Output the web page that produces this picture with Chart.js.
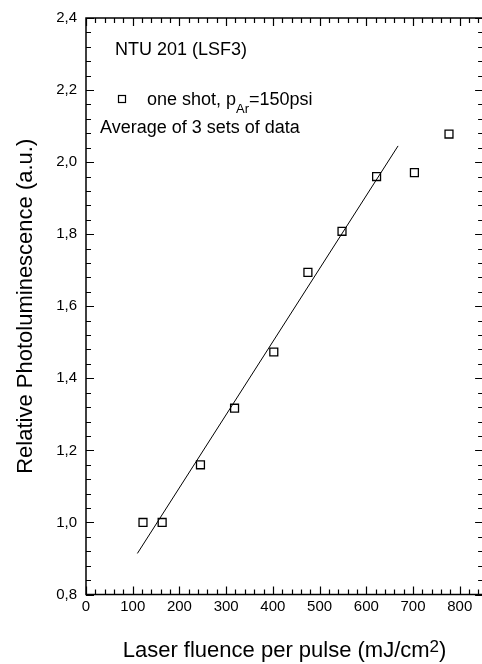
<!DOCTYPE html>
<html>
<head>
<meta charset="utf-8">
<script src="https://cdn.jsdelivr.net/npm/chart.js@4.4.1/dist/chart.umd.min.js"></script>
<style>
  html, body { margin: 0; padding: 0; background: #fff; overflow: hidden; }
  #wrap { width: 490px; height: 664px; }
</style>
</head>
<body>
<div id="wrap"><canvas id="plChart" width="490" height="664"></canvas></div>
<script>
// fluence (mJ/cm2) and relative PL
const fluence = [122, 163, 245, 318, 402, 475, 548, 622, 703, 777];
const relPL = [1.0, 1.0, 1.16, 1.317, 1.473, 1.694, 1.808, 1.96, 1.971, 2.078];

// straight fit line ends
const fitX = [110, 668];
const fitY = [0.914, 2.045];

const xTicks = [0, 100, 200, 300, 400, 500, 600, 700, 800];
const yTicks = [0.8, 1.0, 1.2, 1.4, 1.6, 1.8, 2.0, 2.2, 2.4];

const FONT = '"Liberation Sans", Arial, Helvetica, sans-serif';

const framePlugin = {
    id: 'frame',
    afterDraw(chart) {
        const ctx = chart.ctx;
        const a = chart.chartArea;
        const xs = chart.scales.x;
        const ys = chart.scales.y;
        ctx.save();
        ctx.strokeStyle = '#000';

        // box
        ctx.lineWidth = 1.5;
        ctx.strokeRect(a.left, a.top, a.right - a.left, a.bottom - a.top);

        // inward ticks on all four sides
        ctx.lineWidth = 1.2;
        ctx.beginPath();
        for (let v = 0; v <= 850; v += 20) {
            const px = Math.round(xs.getPixelForValue(v)) + 0.5;
            const len = v % 100 === 0 ? 8 : 5;
            ctx.moveTo(px, a.bottom); ctx.lineTo(px, a.bottom - len);
            ctx.moveTo(px, a.top); ctx.lineTo(px, a.top + len);
        }
        for (let i = 0; i <= 40; i++) {
            const v = 0.8 + i * 0.04;
            const py = Math.round(ys.getPixelForValue(v)) + 0.5;
            const len = i % 5 === 0 ? 8 : 5;
            ctx.moveTo(a.left, py); ctx.lineTo(a.left + len, py);
            ctx.moveTo(a.right, py); ctx.lineTo(a.right - len, py);
        }
        ctx.stroke();

        // annotations
        ctx.fillStyle = '#000';
        ctx.textBaseline = 'alphabetic';
        ctx.textAlign = 'left';
        ctx.font = '18px ' + FONT;
        ctx.fillText('NTU 201 (LSF3)', 115, 55);

        ctx.lineWidth = 1.2;
        ctx.strokeRect(118.5, 95.5, 7, 7);
        ctx.fillText('one shot, p', 147, 105);
        let w = ctx.measureText('one shot, p').width;
        ctx.font = '13px ' + FONT;
        ctx.fillText('Ar', 147 + w, 113);
        const w2 = ctx.measureText('Ar').width;
        ctx.font = '18px ' + FONT;
        ctx.fillText('=150psi', 147 + w + w2, 105);

        ctx.fillText('Average of 3 sets of data', 100, 133);

        // x title with raised 2
        const cx = (a.left + a.right) / 2;
        const p1 = 'Laser fluence per pulse (mJ/cm';
        ctx.font = '22px ' + FONT;
        const t1 = ctx.measureText(p1).width;
        const t3 = ctx.measureText(')').width;
        ctx.font = '17px ' + FONT;
        const t2 = ctx.measureText('2').width;
        let x0 = cx - (t1 + t2 + t3) / 2;
        ctx.font = '22px ' + FONT;
        ctx.fillText(p1, x0, 657);
        ctx.font = '17px ' + FONT;
        ctx.fillText('2', x0 + t1, 652);
        ctx.font = '22px ' + FONT;
        ctx.fillText(')', x0 + t1 + t2, 657);

        // y title
        ctx.save();
        ctx.translate(32, (a.top + a.bottom) / 2);
        ctx.rotate(-Math.PI / 2);
        ctx.textAlign = 'center';
        ctx.fillText('Relative Photoluminescence (a.u.)', 0, 0);
        ctx.restore();

        ctx.restore();
    }
};

new Chart(document.getElementById('plChart'), {
    type: 'scatter',
    data: {
        datasets: [
            {
                type: 'line',
                data: fitX.map((x, i) => ({ x: x, y: fitY[i] })),
                borderColor: '#000',
                borderWidth: 1,
                pointRadius: 0,
                fill: false
            },
            {
                data: fluence.map((x, i) => ({ x: x, y: relPL[i] })),
                pointStyle: 'rect',
                pointRadius: 5.6,
                backgroundColor: '#fff',
                borderColor: '#000',
                borderWidth: 1.3
            }
        ]
    },
    options: {
        responsive: false,
        animation: false,
        layout: { padding: { top: 16, right: 3, left: 0, bottom: 0 } },
        plugins: { legend: { display: false }, tooltip: { enabled: false } },
        scales: {
            x: {
                type: 'linear',
                min: 0,
                max: 850,
                grid: { display: false, drawTicks: false },
                border: { display: false },
                afterBuildTicks: s => { s.ticks = xTicks.map(v => ({ value: v })); },
                afterFit: s => { s.height = 69.5; },
                ticks: {
                    padding: 3,
                    maxRotation: 0,
                    color: '#000',
                    font: { family: FONT, size: 15 }
                }
            },
            y: {
                min: 0.8,
                max: 2.4,
                grid: { display: false, drawTicks: false },
                border: { display: false },
                afterBuildTicks: s => { s.ticks = yTicks.map(v => ({ value: v })); },
                afterFit: s => { s.width = 86; },
                ticks: {
                    padding: 9,
                    color: '#000',
                    font: { family: FONT, size: 15 },
                    callback: v => v.toFixed(1).replace('.', ',')
                }
            }
        }
    },
    plugins: [framePlugin]
});
</script>
</body>
</html>
